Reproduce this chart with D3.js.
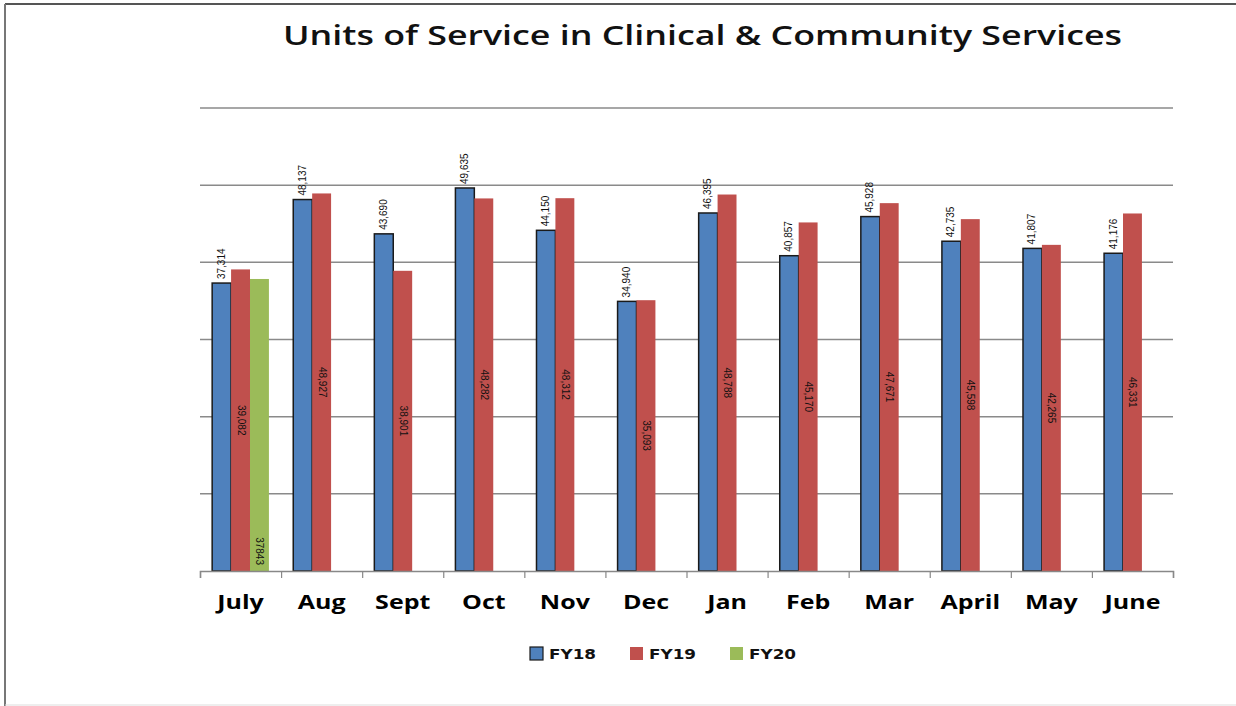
<!DOCTYPE html>
<html>
<head>
<meta charset="utf-8">
<style>
  body { margin: 0; background: #fff; }
</style>
</head>
<body>
<script src="https://d3js.org/d3.v7.min.js"></script>
<svg id="chart" width="1236" height="706"></svg>
<script>
// data
const months = ["July", "Aug", "Sept", "Oct", "Nov", "Dec", "Jan", "Feb", "Mar", "April", "May", "June"];
const seriesNames = ["FY18", "FY19", "FY20"];
const fy18 = [37314, 48137, 43690, 49635, 44150, 34940, 46395, 40857, 45928, 42735, 41807, 41176];
const fy19 = [39082, 48927, 38901, 48282, 48312, 35093, 48788, 45170, 47671, 45598, 42265, 46331];
const fy20 = [37843];
const gridTicks = [0, 10000, 20000, 30000, 40000, 50000, 60000];

const colors = {FY18: "#4F81BD", FY19: "#C0504D", FY20: "#9BBB59"};

const svg = d3.select("#chart");
const width = 1236, height = 706;

// frame
svg.append("line").attr("x1", 5).attr("x2", width).attr("y1", 4).attr("y2", 4)
    .attr("stroke", "#555").attr("stroke-width", 2);
svg.append("line").attr("x1", 5).attr("x2", 5).attr("y1", 4).attr("y2", height)
    .attr("stroke", "#777").attr("stroke-width", 2);
svg.append("line").attr("x1", 5).attr("x2", width).attr("y1", 705).attr("y2", 705)
    .attr("stroke", "#ddd").attr("stroke-width", 1);

// title (the original is stretched sideways)
svg.append("text")
    .attr("x", 283).attr("y", 45)
    .attr("textLength", 839)
    .attr("lengthAdjust", "spacingAndGlyphs")
    .style("font-family", "Open Sans, sans-serif")
    .style("font-size", "27px")
    .style("font-weight", "600")
    .attr("fill", "#111")
    .text("Units of Service in Clinical & Community Services");

const plot = {left: 200, right: 1173, top: 108, bottom: 571};

const x = d3.scaleBand().domain(months).range([plot.left, plot.right]).paddingInner(0.3).paddingOuter(0.15);
const xs = d3.scaleBand().domain(seriesNames).range([0, x.bandwidth()]);
const y = d3.scaleLinear().domain([0, 60000]).range([plot.bottom, plot.top]);

// gridlines
svg.append("g")
    .selectAll("line")
    .data(gridTicks.slice(1))
    .join("line")
    .attr("x1", plot.left).attr("x2", plot.right)
    .attr("y1", d => y(d)).attr("y2", d => y(d))
    .attr("stroke", "#8a8a8a").attr("stroke-width", 1.5);

// build rows
const rows = [];
months.forEach((m, i) => {
    rows.push({month: m, series: "FY18", value: fy18[i]});
    rows.push({month: m, series: "FY19", value: fy19[i]});
    if (fy20[i] !== undefined) rows.push({month: m, series: "FY20", value: fy20[i]});
});

const bx = d => x(d.month) + xs(d.series);

svg.append("g")
    .selectAll("rect")
    .data(rows)
    .join("rect")
    .attr("x", d => bx(d))
    .attr("y", d => y(d.value))
    .attr("width", xs.bandwidth())
    .attr("height", d => y(0) - y(d.value))
    .attr("fill", d => colors[d.series])
    .attr("stroke", d => d.series === "FY18" ? "#1a1a1a" : "none")
    .attr("stroke-width", 1.5);

// x axis
const xAxis = d3.axisBottom(d3.scaleLinear().domain([0, 12]).range([plot.left, plot.right]))
    .ticks(12).tickSize(7).tickFormat("");
const gx = svg.append("g").attr("transform", `translate(0,${plot.bottom})`).call(xAxis);
gx.select(".domain").attr("stroke", "#888").attr("stroke-width", 1.5);
gx.selectAll(".tick line").attr("stroke", "#888").attr("stroke-width", 1.2);

svg.append("g")
    .selectAll("text")
    .data(months)
    .join("text")
    .attr("transform", d => `translate(${x(d) + x.bandwidth() / 2},609) scale(1.25,1)`)
    .attr("text-anchor", "middle")
    .style("font-family", "Open Sans, sans-serif")
    .style("font-size", "20px")
    .style("font-weight", "700")
    .attr("fill", "#000")
    .text(d => d);

// value labels
const fmt = d3.format(",");
const labelFont = "Liberation Sans Narrow, Liberation Sans, sans-serif";

svg.append("g")
    .selectAll("text")
    .data(rows.filter(d => d.series === "FY18"))
    .join("text")
    .attr("transform", d => `translate(${bx(d) + xs.bandwidth() / 2 + 3},${y(d.value) - 4}) rotate(-90)`)
    .style("font-family", labelFont)
    .style("font-size", "10px")
    .attr("fill", "#111")
    .text(d => fmt(d.value));

svg.append("g")
    .selectAll("text")
    .data(rows.filter(d => d.series === "FY19"))
    .join("text")
    .attr("transform", d => `translate(${bx(d) + xs.bandwidth() / 2 - 3},${(y(d.value) + y(0)) / 2}) rotate(90)`)
    .attr("text-anchor", "middle")
    .style("font-family", labelFont)
    .style("font-size", "10px")
    .attr("fill", "#111")
    .text(d => fmt(d.value));

svg.append("g")
    .selectAll("text")
    .data(rows.filter(d => d.series === "FY20"))
    .join("text")
    .attr("transform", d => `translate(${bx(d) + xs.bandwidth() / 2 - 3},${y(0) - 6}) rotate(90)`)
    .attr("text-anchor", "end")
    .style("font-family", labelFont)
    .style("font-size", "10px")
    .attr("fill", "#111")
    .text(d => d.value);

// legend
const legendX = [530, 630, 730];
const lg = svg.append("g")
    .selectAll("g")
    .data(seriesNames)
    .join("g")
    .attr("transform", (d, i) => `translate(${legendX[i]},647)`);
lg.append("rect")
    .attr("width", 13).attr("height", 13)
    .attr("fill", d => colors[d])
    .attr("stroke", d => d === "FY18" ? "#1a1a1a" : "none")
    .attr("stroke-width", 1.2);
lg.append("text")
    .attr("transform", "translate(19,12) scale(1.2,1)")
    .style("font-family", "DejaVu Sans, sans-serif")
    .style("font-size", "14px")
    .style("font-weight", "700")
    .attr("fill", "#111")
    .text(d => d);
</script>
</body>
</html>
